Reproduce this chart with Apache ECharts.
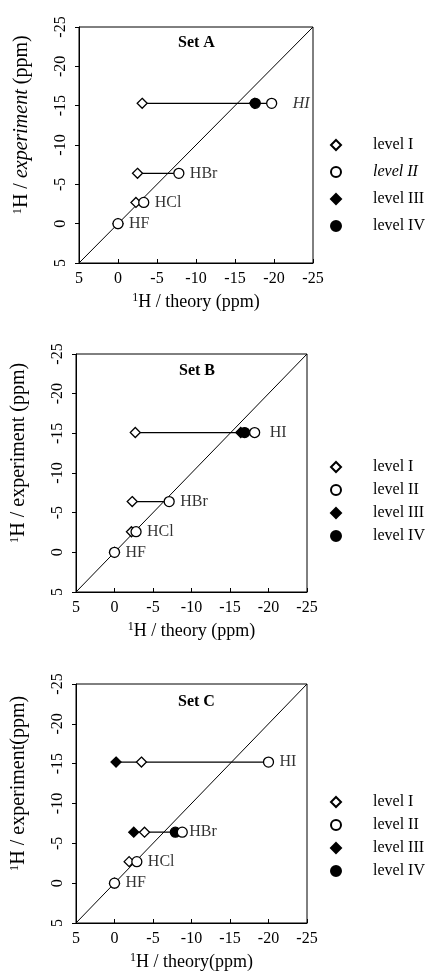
<!DOCTYPE html>
<html><head><meta charset="utf-8">
<script src="https://cdn.jsdelivr.net/npm/echarts@6/dist/echarts.min.js"></script>
<style>html,body{margin:0;padding:0;background:#fff}#c{width:433px;height:980px}</style>
</head><body><div id="c"></div>
<script>
// ---- data ----
const molecules = ['HF', 'HCl', 'HBr', 'HI'];
const levelNames = ['level I', 'level II', 'level III', 'level IV'];
const axisMin = -25, axisMax = 5, axisStep = 5;
const diagonal = [5, -25];

// Set A
const expA   = [0, -2.7, -6.4, -15.3];
const A_I    = [0, -2.3, -2.5, -3.1];
const A_II   = [0, -3.3, -7.8, -19.7];
const A_III  = [null, null, null, -17.5];
const A_IV   = [null, null, null, -17.6];
// Set B
const expB   = [0, -2.6, -6.4, -15.1];
const B_I    = [0, -2.2, -2.3, -2.7];
const B_II   = [0, -2.8, -7.1, -18.2];
const B_III  = [null, null, null, -16.4];
const B_IV   = [null, null, null, -16.9];
// Set C
const expC   = [0, -2.7, -6.4, -15.2];
const C_I    = [0, -1.9, -3.9, -3.5];
const C_II   = [0, -2.9, -8.8, -20.0];
const C_III  = [null, null, -2.5, -0.2];
const C_IV   = [null, null, -7.9, null];

const sets = [
  {title: 'Set A', exp: expA, levels: [A_I, A_II, A_III, A_IV]},
  {title: 'Set B', exp: expB, levels: [B_I, B_II, B_III, B_IV]},
  {title: 'Set C', exp: expC, levels: [C_I, C_II, C_III, C_IV]}
];

// ---- layout / style ----
const FONT = 'Liberation Serif';
const layout = [
  {left: 79, top: 27, width: 234, height: 236, titleLeft: 178, titleTop: 35, legTop: 132, legGap: 11,
   xName: '{s|1}{n|H / theory (ppm)}', yName: '{s|1}{n|H / }{i|experiment}{n| (ppm)}',
   italicLegend: 'level II', italicLabel: 'HI', labelDist: {HI: 16}},
  {left: 75, top: 354, width: 232, height: 238, titleLeft: 179, titleTop: 363, legTop: 454, legGap: 7,
   xName: '{s|1}{n|H / theory (ppm)}', yName: '{s|1}{n|H / experiment (ppm)}',
   italicLegend: null, italicLabel: null, labelDist: {HI: 10}},
  {left: 74, top: 684, width: 233, height: 239, titleLeft: 178, titleTop: 694, legTop: 789, legGap: 7,
   xName: '{s|1}{n|H / theory(ppm)}', yName: '{s|1}{n|H / experiment(ppm)}',
   italicLegend: null, italicLabel: null, labelDist: {HBr: 2, HI: 6}}
];
const symbols = [
  {symbol: 'diamond', size: 10, fill: '#fff'},
  {symbol: 'circle', size: 10, fill: '#fff'},
  {symbol: 'diamond', size: 10, fill: '#000'},
  {symbol: 'circle', size: 10, fill: '#000'}
];
const zOrder = [5, 6, 3, 4];

function richName(fs) {
  return {
    s: {fontFamily: FONT, fontSize: Math.round(fs * 0.65), verticalAlign: 'top', lineHeight: fs + 2, color: '#000'},
    n: {fontFamily: FONT, fontSize: fs, lineHeight: fs + 2, color: '#000'},
    i: {fontFamily: FONT, fontSize: fs, lineHeight: fs + 2, fontStyle: 'italic', color: '#000'}
  };
}

const option = {
  backgroundColor: '#fff',
  animation: false,
  title: [], legend: [], grid: [], xAxis: [], yAxis: [], series: []
};

sets.forEach((set, p) => {
  const L = layout[p];
  option.grid.push({left: L.left, top: L.top, width: L.width, height: L.height,
    show: true, borderColor: '#000', borderWidth: 1, backgroundColor: 'transparent', containLabel: false});
  option.title.push({text: set.title, left: L.titleLeft, top: L.titleTop, padding: 0,
    textStyle: {fontFamily: FONT, fontSize: 16, fontWeight: 'bold', color: '#000'}});
  option.xAxis.push({gridIndex: p, type: 'value', min: axisMin, max: axisMax, interval: axisStep, inverse: true,
    splitLine: {show: false},
    axisLine: {show: true, onZero: false, lineStyle: {color: '#000', width: 1}},
    axisTick: {show: true, inside: true, length: 4, lineStyle: {color: '#000'}},
    axisLabel: {fontFamily: FONT, fontSize: 16, color: '#000', margin: 8},
    name: L.xName, nameLocation: 'middle', nameGap: 29,
    nameTextStyle: {rich: richName(18)}
  });
  option.yAxis.push({gridIndex: p, type: 'value', min: axisMin, max: axisMax, interval: axisStep, inverse: true,
    splitLine: {show: false},
    axisLine: {show: true, onZero: false, lineStyle: {color: '#000', width: 1}},
    axisTick: {show: true, inside: false, length: 4, lineStyle: {color: '#000'}},
    axisLabel: {fontFamily: FONT, fontSize: 16, color: '#000', margin: 10, rotate: 90},
    name: L.yName, nameLocation: 'middle', nameGap: 46,
    nameTextStyle: {rich: richName(20), padding: [0, 0, 0, 40]}
  });
  // legend
  option.legend.push({
    orient: 'vertical', left: 325, top: L.legTop, itemGap: L.legGap,
    itemWidth: 10, itemHeight: 10, selectedMode: false,
    data: levelNames,
    formatter: name => '{g| }' + (name === L.italicLegend ? '{i|' + name + '}' : '{n|' + name + '}'),
    textStyle: {rich: {
      g: {width: 27, fontSize: 16, lineHeight: 16},
      n: {fontFamily: FONT, fontSize: 16, lineHeight: 16, color: '#000'},
      i: {fontFamily: FONT, fontSize: 16, lineHeight: 16, fontStyle: 'italic', color: '#000'}
    }}
  });
  // diagonal y = x
  option.series.push({type: 'line', xAxisIndex: p, yAxisIndex: p, z: 1, silent: true,
    data: diagonal.map(v => [v, v]), showSymbol: false, symbol: 'none',
    lineStyle: {color: '#000', width: 1}});
  // connectors per molecule
  molecules.forEach((m, k) => {
    const xs = set.levels.map(arr => arr[k]).filter(v => v !== null);
    const lo = Math.max(...xs), hi = Math.min(...xs);
    option.series.push({type: 'line', xAxisIndex: p, yAxisIndex: p, z: 2, silent: true,
      data: [[lo, set.exp[k]], [hi, set.exp[k]]], showSymbol: false, symbol: 'none',
      lineStyle: {color: '#000', width: 1.2}});
  });
  // level scatters
  set.levels.forEach((arr, li) => {
    const s = symbols[li];
    option.series.push({type: 'scatter', name: levelNames[li], xAxisIndex: p, yAxisIndex: p, z: zOrder[li],
      symbol: s.symbol, symbolSize: s.size,
      itemStyle: {color: s.fill, borderColor: '#000', borderWidth: 1.3, opacity: 1},
      data: arr.map((v, k) => v === null ? null : [v, set.exp[k]]).filter(d => d !== null)});
  });
  // molecule labels at the right end of each row
  option.series.push({type: 'scatter', xAxisIndex: p, yAxisIndex: p, z: 7, silent: true,
    symbolSize: 10, itemStyle: {color: 'rgba(0,0,0,0)'},
    data: molecules.map((m, k) => {
      const xs = set.levels.map(arr => arr[k]).filter(v => v !== null);
      return {value: [Math.min(...xs), set.exp[k]], name: m,
        label: {show: true, position: 'right', distance: (L.labelDist[m] !== undefined ? L.labelDist[m] : 6),
          fontFamily: FONT, fontSize: 16, color: '#000', fontStyle: m === L.italicLabel ? 'italic' : 'normal',
          formatter: m}};
    })});
});

const chart = echarts.init(document.getElementById('c'), null, {renderer: 'canvas'});
chart.setOption(option);
</script>
</body></html>
